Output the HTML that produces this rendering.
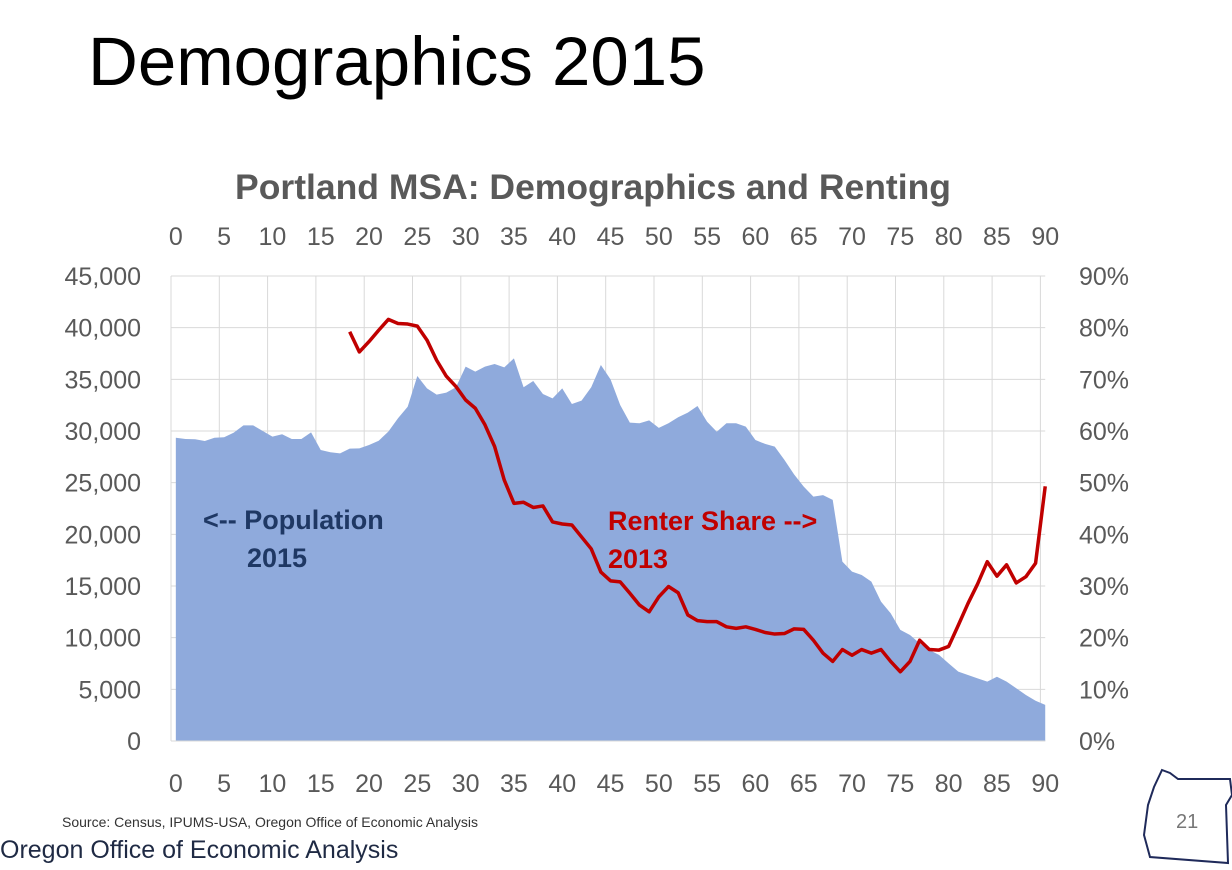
<!DOCTYPE html>
<html><head><meta charset="utf-8"><style>
body{margin:0;width:1232px;height:869px;background:#fff;overflow:hidden;font-family:"Liberation Sans",sans-serif;position:relative}
.t{position:absolute;white-space:nowrap}
</style></head><body>
<div class="t" style="left:88px;top:22px;font-size:69px;color:#000">Demographics 2015</div>
<svg id="chart" width="1232" height="869" style="position:absolute;left:0;top:0"></svg>
<div class="t" style="left:62px;top:814px;font-size:14px;color:#333">Source: Census, IPUMS-USA, Oregon Office of Economic Analysis</div>
<div class="t" style="left:0;top:836px;font-size:25px;color:#1f2a44">Oregon Office of Economic Analysis</div>
<div class="t" style="left:1176px;top:811px;font-size:20px;color:#777">21</div>
<svg width="95" height="105" style="position:absolute;left:1140px;top:765px">
<path d="M22 5 L30 8 L38 14 L90 14 L92 30 L86 40 L88 98 L10 92 L4 70 L8 40 L14 22 Z" fill="none" stroke="#1f2a5a" stroke-width="2"/>
</svg>
<script>
const ages=[];for(let i=0;i<=90;i++)ages.push(i);
const population=[29350,29230,29200,29030,29350,29390,29840,30550,30550,30000,29450,29680,29230,29230,29870,28160,27940,27840,28290,28320,28650,29060,29940,31230,32350,35320,34130,33520,33710,34230,36230,35740,36230,36480,36160,37030,34230,34840,33580,33160,34130,32610,32940,34230,36390,35000,32520,30810,30750,31030,30300,30750,31330,31780,32420,30900,29930,30750,30750,30420,29130,28750,28490,27200,25800,24620,23650,23800,23330,17360,16390,16070,15420,13490,12360,10750,10260,9450,8810,8330,7510,6710,6390,6060,5740,6220,5740,5100,4450,3900,3490];
const renterStart=18;
const renterShare=[79.2,75.3,77.3,79.5,81.6,80.8,80.7,80.3,77.6,73.7,70.6,68.6,66.0,64.4,61.2,57.0,50.5,46.0,46.2,45.2,45.5,42.4,42.0,41.8,39.5,37.2,32.7,31.0,30.8,28.6,26.3,25.0,27.9,29.9,28.7,24.4,23.3,23.1,23.1,22.1,21.8,22.1,21.6,21.0,20.7,20.8,21.7,21.6,19.5,17.0,15.4,17.7,16.6,17.7,17.0,17.7,15.4,13.4,15.4,19.5,17.7,17.6,18.3,22.4,26.6,30.4,34.7,31.9,34.1,30.6,31.8,34.4,49.3];
const leftTicks=[0,5000,10000,15000,20000,25000,30000,35000,40000,45000];
const rightTicks=[0,10,20,30,40,50,60,70,80,90];
const xTicks=[0,5,10,15,20,25,30,35,40,45,50,55,60,65,70,75,80,85,90];

const L=171,B=741,T=276,STEP=9.66;
const x=a=>L+STEP*(a+0.5);
const yL=v=>B-(v/45000)*(B-T);
const yR=p=>B-(p/90)*(B-T);
const svg=document.getElementById('chart');
const NS='http://www.w3.org/2000/svg';
function mk(tag,attrs){const e=document.createElementNS(NS,tag);for(const k in attrs)e.setAttribute(k,attrs[k]);svg.appendChild(e);return e;}
const R=x(90);
leftTicks.forEach(v=>{const g=mk('line',{x1:L,x2:R,y1:yL(v),y2:yL(v),stroke:'#d9d9d9','stroke-width':1});

});
xTicks.forEach(a=>{const gx=L+STEP*a;const g=mk('line',{x1:gx,x2:gx,y1:T,y2:B,stroke:'#d9d9d9','stroke-width':1});

});
let d='M'+x(0)+' '+B;
population.forEach((v,i)=>{d+=' L'+x(ages[i])+' '+yL(v);});
d+=' L'+x(90)+' '+B+' Z';
const area=mk('path',{d:d,fill:'#8faadc'});


let ld='';
renterShare.forEach((p,i)=>{ld+=(i?' L':'M')+x(renterStart+i)+' '+yR(p);});
const line=mk('path',{d:ld,fill:'none',stroke:'#c00000','stroke-width':3.5,'stroke-linejoin':'round'});


const ax=mk('line',{x1:L,x2:R,y1:B,y2:B,stroke:'#d9d9d9','stroke-width':1});


function txt(s,px,py,anchor,size,fill,weight){const t=mk('text',{x:px,y:py,'text-anchor':anchor,'font-size':size,fill:fill,'font-weight':weight||'normal','font-family':'Liberation Sans, sans-serif'});t.textContent=s;return t;}
leftTicks.forEach(v=>{const t=txt(v.toLocaleString('en-US'),141,yL(v)+9,'end',25,'#595959');

});
rightTicks.forEach(p=>{const t=txt(p+'%',1079,yR(p)+9,'start',25,'#595959');

});
xTicks.forEach(a=>{const t1=txt(String(a),x(a),245,'middle',25,'#595959');


const t2=txt(String(a),x(a),792,'middle',25,'#595959');

});
const ct=txt('Portland MSA: Demographics and Renting',593,199,'middle',35.5,'#595959','bold');


const a1=txt('<-- Population',203,529,'start',27,'#1f3864','bold');


const a2=txt('2015',247,567,'start',27,'#1f3864','bold');


const a3=txt('Renter Share -->',608,530,'start',27,'#c00000','bold');


const a4=txt('2013',608,568,'start',27,'#c00000','bold');


</script>
</body></html>
